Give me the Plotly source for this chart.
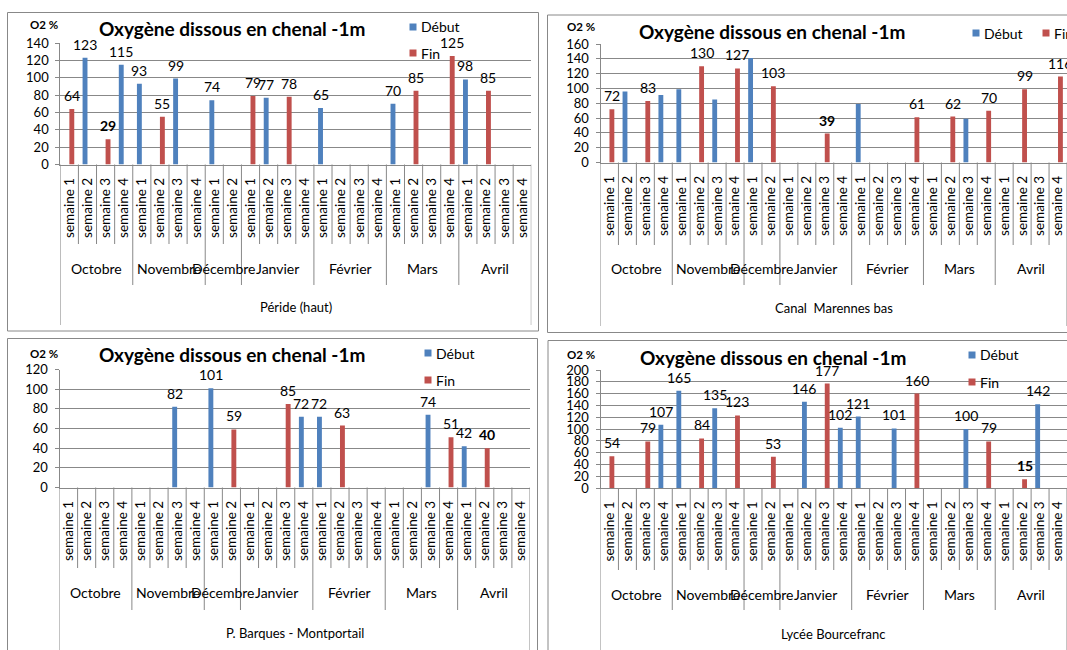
import plotly.graph_objects as go

# ---------------------------------------------------------------- data
months = ["Octobre", "Novembre", "Décembre", "Janvier", "Février", "Mars", "Avril"]
weeks_per_month = [4, 4, 2, 4, 4, 4, 4]
week_names = ["semaine 1", "semaine 2", "semaine 3", "semaine 4"]
y_ticks_max = [140, 160, 120, 200]
stations = ["Péride (haut)", "Canal  Marennes bas", "P. Barques - Montportail", "Lycée Bourcefranc"]
series_names = ["Début", "Fin"]

# O2 saturation (%) for each week slot, None = no reading
peride_debut = [None, 123, None, 115, 93, None, 99, None, 74, None,
                None, 77, None, None, 65, None, None, None,
                70, None, None, None, 98, None, None, None]
peride_fin = [64, None, 29, None, None, 55, None, None, None, None,
              79, None, 78, None, None, None, None, None,
              None, 85, None, 125, None, 85, None, None]

marennes_debut = [None, 96, None, 91, 99, None, 85, None, 141, None,
                  None, None, None, None, 79, None, None, None,
                  None, None, 59, None, None, None, None, None]
marennes_fin = [72, None, 83, None, None, 130, None, 127, None, 103,
                None, None, 39, None, None, None, None, 61,
                None, 62, None, 70, None, 99, None, 116]

barques_debut = [None, None, None, None, None, None, 82, None, 101, None,
                 None, None, None, 72, 72, None, None, None,
                 None, None, 74, None, 42, None, None, None]
barques_fin = [None, None, None, None, None, None, None, None, None, 59,
               None, None, 85, None, None, 63, None, None,
               None, None, None, 51, None, 40, None, None]

lycee_debut = [None, None, None, 107, 165, None, 135, None, None, None,
               None, 146, None, 102, 121, None, 101, None,
               None, None, 100, None, None, None, 142, None]
lycee_fin = [54, None, 79, None, None, 84, None, 123, None, 53,
             None, None, 177, None, None, None, None, 160,
             None, None, None, 79, None, 15, None, None]

station_values = [
    (peride_debut, peride_fin),
    (marennes_debut, marennes_fin),
    (barques_debut, barques_fin),
    (lycee_debut, lycee_fin),
]
# the Canal Marennes chart only labels its "Fin" bars
label_debut = [True, False, True, True]

# ---------------------------------------------------------------- style
W, H = 1067, 650
FONT = "Lato"
GREY = "#888888"
COLORS = {"Début": "#4F81BD", "Fin": "#C0504D"}
BARGAP = 0.46

# panel geometry in pixels
panels = [
    dict(plot=(60.3, 531.3, 43.0, 164.5), box=(7.5, 538.5, 12.5, 331.0),
         title=(232, 28), unit=(44, 24), legend=[(413, 27), (413, 53)],
         week_end=244, month_end=285, outer_end=325, month_y=268, axis_title_y=307),
    dict(plot=(600.5, 1067.0, 44.0, 162.5), box=(547.5, 1075, 15.0, 332.5),
         title=(772, 31), unit=(581, 27), legend=[(976, 33), (1046, 33)],
         week_end=245, month_end=285, outer_end=326, month_y=268, axis_title_y=308),
    dict(plot=(59.5, 530.0, 369.5, 487.5), box=(7.5, 537.5, 338.5, 660),
         title=(232, 355), unit=(44, 353), legend=[(428, 353), (428, 380)],
         week_end=568, month_end=610, outer_end=660, month_y=592, axis_title_y=633),
    dict(plot=(600.5, 1067.0, 370.0, 488.0), box=(548.0, 1075, 340.5, 660),
         title=(773, 357), unit=(581, 354), legend=[(972, 355), (972, 382)],
         week_end=570, month_end=610, outer_end=660, month_y=594, axis_title_y=634),
]


def fx(p):
    return p / W


def fy(p):
    return 1 - p / H


# category keys (month + week) and their displayed week labels
cat_keys, cat_text, month_start = [], [], []
for m, n in zip(months, weeks_per_month):
    month_start.append(len(cat_keys))
    for w in week_names[:n]:
        cat_keys.append(f"{m} {w}")
        cat_text.append(w)
n_cat = len(cat_keys)
month_bounds = set(month_start + [n_cat])

# centre of each series' bar inside its category slot (grouped bars)
half_bar = (1 - BARGAP) / 4
series_shift = {"Début": -half_bar, "Fin": half_bar}

fig = go.Figure()
shapes, annotations = [], []

for k, (geo, vals, ymax, station, lab_d) in enumerate(
        zip(panels, station_values, y_ticks_max, stations, label_debut), start=1):
    sx = "" if k == 1 else str(k)
    xa, ya = f"x{sx}", f"y{sx}"
    x0, x1, yt, yb = geo["plot"]

    lowest = min(v for series in vals for v in series if v is not None)
    for name, series, show in zip(series_names, vals, (lab_d, True)):
        fig.add_trace(go.Bar(
            x=cat_keys, y=series, name=name, xaxis=xa, yaxis=ya,
            marker=dict(color=COLORS[name], line=dict(width=0)),
            showlegend=False, hoverinfo="skip",
        ))
        if not show:
            continue
        # value labels above the bars, lowest reading in bold
        for i, v in enumerate(series):
            if v is None:
                continue
            txt = f"<b>{v}</b>" if v == lowest else str(v)
            annotations.append(dict(
                xref=xa, yref=ya, x=i + series_shift[name], y=v,
                text=txt, showarrow=False, xanchor="center", yanchor="bottom",
                yshift=3, font=dict(family=FONT, size=14, color="#000000")))

    fig.update_layout({
        f"xaxis{sx}": dict(
            domain=[fx(x0), fx(x1)], anchor=ya, type="category",
            categoryorder="array", categoryarray=cat_keys,
            tickvals=cat_keys, ticktext=cat_text, tickangle=-90,
            ticks="", showgrid=False, showline=True, linecolor=GREY,
            range=[-0.5, n_cat - 0.5], ticklabelstandoff=7,
            tickfont=dict(family=FONT, size=13.5, color="#000000"),
            fixedrange=True, automargin=False,
        ),
        f"yaxis{sx}": dict(
            domain=[fy(yb), fy(yt)], anchor=xa, range=[0, ymax], dtick=20,
            showgrid=True, gridcolor=GREY, gridwidth=1, zeroline=False,
            showline=True, linecolor=GREY, ticks="outside", ticklen=4,
            tickcolor=GREY, ticklabelstandoff=4,
            tickfont=dict(family=FONT, size=13, color="#000000"),
            fixedrange=True, automargin=False,
        ),
    })

    # panel frame
    bx0, bx1, by0, by1 = geo["box"]
    shapes.append(dict(type="rect", xref="paper", yref="paper",
                       x0=fx(bx0), x1=fx(bx1), y0=fy(by1), y1=fy(by0),
                       line=dict(color=GREY, width=1), layer="below"))

    # multi-level category axis: week ticks, month dividers, outer frame
    for b in range(n_cat + 1):
        if b in (0, n_cat):
            end = geo["outer_end"]
        elif b in month_bounds:
            end = geo["month_end"]
        else:
            end = geo["week_end"]
        shapes.append(dict(type="line", xref=xa, yref="paper",
                           x0=b - 0.5, x1=b - 0.5, y0=fy(yb), y1=fy(end),
                           line=dict(color=GREY, width=1)))
    for m, s, n in zip(months, month_start, weeks_per_month):
        annotations.append(dict(
            xref=xa, yref="paper", x=s + (n - 1) / 2, y=fy(geo["month_y"]),
            text=m, showarrow=False, xanchor="center", yanchor="middle",
            font=dict(family=FONT, size=14, color="#000000")))
    annotations.append(dict(
        xref=f"{xa} domain", yref="paper", x=0.5, y=fy(geo["axis_title_y"]),
        text=station, showarrow=False, xanchor="center", yanchor="middle",
        font=dict(family=FONT, size=13, color="#000000")))

    # chart title and unit
    tx, ty = geo["title"]
    annotations.append(dict(
        xref="paper", yref="paper", x=fx(tx), y=fy(ty),
        text="<b>Oxygène dissous en chenal -1m</b>", showarrow=False,
        xanchor="center", yanchor="middle",
        font=dict(family=FONT, size=19, color="#000000")))
    ux, uy = geo["unit"]
    annotations.append(dict(
        xref="paper", yref="paper", x=fx(ux), y=fy(uy),
        text="<b>O2 %</b>", showarrow=False, xanchor="center", yanchor="middle",
        font=dict(family=FONT, size=11.5, color="#000000")))

    # legend swatches
    for name, (lx, ly) in zip(series_names, geo["legend"]):
        shapes.append(dict(type="rect", xref="paper", yref="paper",
                           x0=fx(lx - 3.5), x1=fx(lx + 3.5),
                           y0=fy(ly + 3.5), y1=fy(ly - 3.5),
                           fillcolor=COLORS[name], line=dict(width=0)))
        annotations.append(dict(
            xref="paper", yref="paper", x=fx(lx + 6), y=fy(ly),
            text=name, showarrow=False, xanchor="left", yanchor="middle",
            font=dict(family=FONT, size=14, color="#000000")))

fig.update_layout(
    width=W, height=H,
    margin=dict(l=0, r=0, t=0, b=0, pad=0, autoexpand=False),
    paper_bgcolor="white", plot_bgcolor="white",
    barmode="group", bargap=BARGAP, bargroupgap=0,
    shapes=shapes, annotations=annotations, showlegend=False,
)

fig.write_html("out.html", config={"displayModeBar": False})
